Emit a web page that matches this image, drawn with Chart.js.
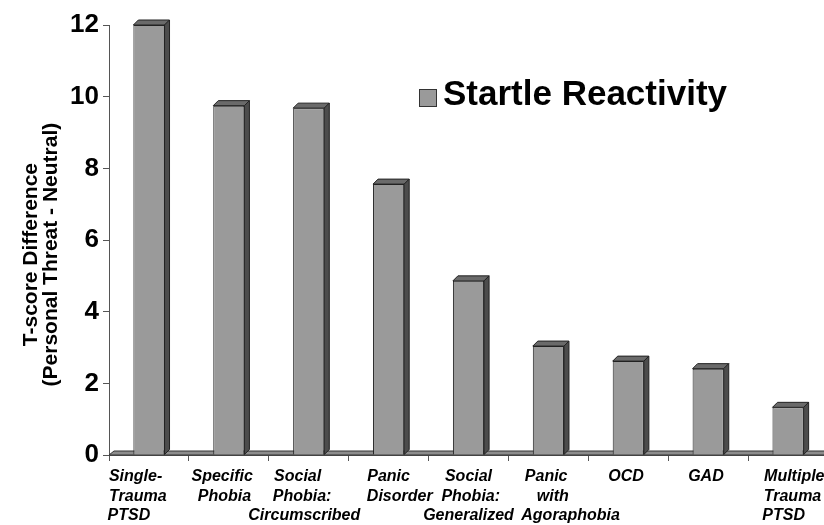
<!DOCTYPE html>
<html>
<head>
<meta charset="utf-8">
<script src="https://cdn.jsdelivr.net/npm/chart.js@4"></script>
<style>
  html, body { margin: 0; padding: 0; background: #fff; overflow: hidden; }
  #wrap { position: relative; width: 840px; height: 525px; }
  #legend { position: absolute; left: 419px; top: 75px; font: bold 35px "Liberation Sans", Arial, sans-serif; line-height: 35px; color: #000; white-space: nowrap; }
  #legend i { position: absolute; left: 0; top: 14px; width: 18px; height: 18px; background: #9a9a9a; border: 1px solid #333; box-sizing: border-box; }
  #legend span { margin-left: 24px; }
</style>
</head>
<body>
<div id="wrap">
  <canvas id="chart"></canvas>
  <div id="legend"><i></i><span>Startle Reactivity</span></div>
</div>
<script>
// labels are padded with spaces to mimic the original line placement
const categories = [
    ['Single-      ', 'Trauma     ', 'PTSD         '],
    ['Specific   ', 'Phobia  '],
    ['Social     ', 'Phobia:   ', 'Circumscribed  '],
    ['Panic', '     Disorder'],
    ['Social', ' Phobia:', 'Generalized'],
    ['Panic ', '  with', '          Agoraphobia'],
    ['OCD '],
    ['GAD '],
    ['    Multiple-', '  Trauma', 'PTSD  ']
];
const startleValues = [12.0, 9.75, 9.68, 7.56, 4.86, 3.04, 2.62, 2.41, 1.33];
const seriesName = 'Startle Reactivity';
const yTitle = ['T-score Difference     ', '(Personal Threat - Neutral)     '];

const depth = 5;

const floorAndBoxes = {
    id: 'floorAndBoxes',
    beforeDatasetsDraw(chart) {
        const { ctx, chartArea } = chart;
        const y0 = chart.scales.y.getPixelForValue(0);
        ctx.save();
        ctx.beginPath();
        ctx.moveTo(chartArea.left, y0);
        ctx.lineTo(chartArea.right + 20, y0);
        ctx.lineTo(chartArea.right + 20, y0 - 4);
        ctx.lineTo(chartArea.left + 5, y0 - 4);
        ctx.closePath();
        ctx.fillStyle = '#8c8c8c';
        ctx.fill();
        ctx.strokeStyle = '#333';
        ctx.lineWidth = 1;
        ctx.stroke();
        ctx.restore();
    },
    afterDatasetsDraw(chart) {
        const ctx = chart.ctx;
        ctx.save();
        ctx.strokeStyle = '#222';
        ctx.lineWidth = 1;
        chart.getDatasetMeta(0).data.forEach(bar => {
            const { x, y, base, width } = bar.getProps(['x', 'y', 'base', 'width'], true);
            const l = x - width / 2, r = x + width / 2;
            // top face
            ctx.beginPath();
            ctx.moveTo(l, y);
            ctx.lineTo(l + depth, y - depth);
            ctx.lineTo(r + depth, y - depth);
            ctx.lineTo(r, y);
            ctx.closePath();
            ctx.fillStyle = '#6a6a6a';
            ctx.fill();
            ctx.stroke();
            // side face
            ctx.beginPath();
            ctx.moveTo(r, y);
            ctx.lineTo(r + depth, y - depth);
            ctx.lineTo(r + depth, base - depth);
            ctx.lineTo(r, base);
            ctx.closePath();
            ctx.fillStyle = '#4c4c4c';
            ctx.fill();
            ctx.stroke();
        });
        ctx.restore();
    }
};

new Chart(document.getElementById('chart'), {
    type: 'bar',
    data: {
        labels: categories,
        datasets: [{
            label: seriesName,
            data: startleValues,
            backgroundColor: '#9a9a9a',
            borderColor: '#222',
            borderWidth: 1,
            barPercentage: 0.39,
            categoryPercentage: 1
        }]
    },
    options: {
        responsive: true,
        maintainAspectRatio: false,
        animation: false,
        layout: { padding: { top: 25, right: 12, left: 0, bottom: 0 } },
        plugins: {
            legend: { display: false },
            tooltip: { enabled: false }
        },
        scales: {
            x: {
                offset: true,
                grid: { display: true, drawOnChartArea: false, drawTicks: true, tickLength: 6, color: '#555', offset: true },
                border: { display: true, color: '#555' },
                ticks: {
                    color: '#000',
                    autoSkip: false,
                    maxRotation: 0,
                    padding: 6,
                    font: { family: '"Liberation Sans", Arial, sans-serif', size: 16, weight: 'bold', style: 'italic', lineHeight: 1.22 }
                },
                afterFit(scale) { scale.height = 70; }
            },
            y: {
                min: 0,
                max: 12,
                grid: { display: true, drawOnChartArea: false, drawTicks: true, tickLength: 6, color: '#555' },
                border: { display: true, color: '#555' },
                ticks: {
                    stepSize: 2,
                    color: '#000',
                    padding: 4,
                    font: { family: '"Liberation Sans", Arial, sans-serif', size: 26, weight: 'bold' }
                },
                title: {
                    display: true,
                    text: yTitle,
                    color: '#000',
                    padding: { top: 21, bottom: 0 },
                    font: { family: '"Liberation Sans", Arial, sans-serif', size: 21, weight: 'bold', lineHeight: 0.95 }
                },
                afterFit(scale) { scale.width = 109; }
            }
        }
    },
    plugins: [floorAndBoxes]
});
</script>
</body>
</html>
